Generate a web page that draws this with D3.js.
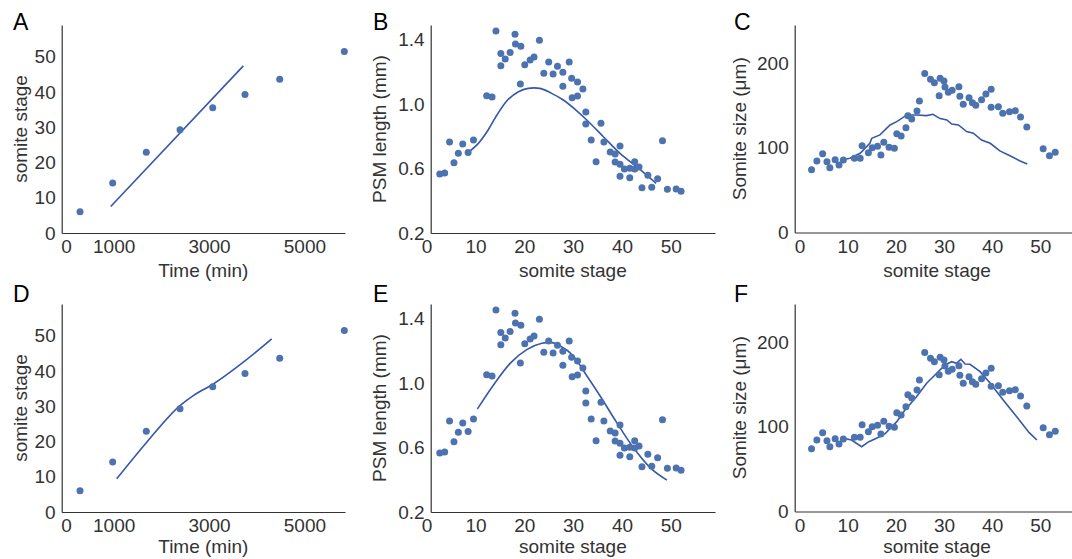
<!DOCTYPE html>
<html>
<head>
<meta charset="utf-8">
<script src="https://cdn.jsdelivr.net/npm/d3@7"></script>
<style>
  body { margin: 0; background: #fff; }
  svg { display: block; font-family: "Liberation Sans", Arial, sans-serif; }
  .tick text { font-size: 19px; fill: #333; }
  .domain { stroke: #333; stroke-width: 1.2px; }
  .axis-title { font-size: 19px; fill: #333; }
  .panel-letter { font-size: 23px; fill: #000; }
  .dot { fill: #4c72b0; }
  .fit { fill: none; stroke: #3558a8; stroke-width: 1.6px; }
</style>
</head>
<body>
<svg id="chart" width="1072" height="559"></svg>
<script>
  // --- Data ---
  // A / D: somite stage vs time
  const timeMin      = [294, 979, 1684, 2391, 3077, 3754, 4482, 5837];
  const stageAtTime  = [6.0, 14.2, 22.9, 29.3, 35.5, 39.3, 43.6, 51.5];
  const fitA_time    = [938, 3719];
  const fitA_stage   = [7.5, 47.4];
  const fitD_time    = [1063, 1693, 2391, 2670, 3089, 3719, 4314];
  const fitD_stage   = [9.4, 19.8, 30.2, 33.0, 36.3, 42.5, 49.1];

  // B / E: PSM length vs somite stage
  const psmStage = [2.7, 3.7, 4.7, 5.6, 6.5, 7.4, 8.5, 9.6, 12.3, 13.4, 14.2, 15.2, 15.2, 16.1, 17.1,
    18.1, 18.2, 19.3, 19.2, 20.1, 21.2, 22.0, 23.1, 24.0, 25.0, 25.9, 26.8, 27.9, 27.9, 29.2, 29.7,
    29.8, 30.9, 30.9, 32.0, 32.6, 32.6, 33.7, 34.7, 35.7, 36.3, 37.6, 38.6, 38.6, 39.6, 39.6, 39.6,
    40.5, 41.6, 41.6, 42.6, 42.6, 43.5, 44.1, 45.3, 46.1, 47.3, 48.3, 49.3, 51.1, 52.1];
  const psmLength = [0.566, 0.572, 0.764, 0.636, 0.694, 0.752, 0.700, 0.777, 1.051, 1.043, 1.453, 1.314, 1.238, 1.279, 1.320,
    1.432, 1.372, 1.358, 1.124, 1.244, 1.273, 1.291, 1.395, 1.190, 1.260, 1.186, 1.234, 1.197, 1.110, 1.260, 1.159,
    1.039, 1.136, 1.050, 1.093, 0.950, 0.876, 0.777, 0.642, 0.880, 0.764, 0.702, 0.690, 0.640, 0.740, 0.626, 0.552,
    0.597, 0.601, 0.543, 0.642, 0.597, 0.609, 0.481, 0.558, 0.483, 0.537, 0.772, 0.471, 0.473, 0.459];
  const fitB_stage  = [8.5, 10.6, 12.6, 14.4, 16.4, 18.8, 20.8, 22.0, 23.2, 25.6, 28.0, 30.4, 32.8, 36.2, 39.6, 43.0, 47.0];
  const fitB_length = [0.700, 0.756, 0.839, 0.932, 1.019, 1.076, 1.097, 1.100, 1.097, 1.066, 1.025, 0.967, 0.901, 0.797, 0.694, 0.611, 0.508];
  const fitE_stage  = [10.4, 13.7, 17.1, 20.5, 23.6, 25.3, 27.3, 30.0, 32.8, 35.5, 38.9, 42.3, 45.7, 49.2];
  const fitE_length = [0.839, 0.988, 1.122, 1.207, 1.246, 1.252, 1.231, 1.169, 1.045, 0.921, 0.756, 0.601, 0.477, 0.398];

  // C / F: somite size vs somite stage
  const sizeStage = [2.5, 3.6, 4.8, 5.7, 6.3, 7.4, 8.2, 9.1, 11.4, 12.6, 13.0, 14.3, 15.1, 16.2, 16.9, 17.5, 18.6,
    19.7, 20.2, 21.1, 22.1, 22.5, 23.3, 24.4, 24.9, 26.0, 27.2, 28.0, 29.2, 29.0, 30.0, 30.2, 30.9, 31.7,
    33.1, 33.3, 34.0, 35.2, 35.9, 36.6, 37.8, 38.7, 39.8, 39.8, 41.3, 42.2, 43.6, 44.8, 45.9, 47.2,
    50.6, 51.9, 53.1];
  const sizeUm = [74.2, 84.4, 93.1, 83.6, 76.5, 86.0, 79.7, 85.6, 87.6, 87.6, 102.5, 94.3, 100.2, 101.8, 91.5, 106.5, 100.6,
    99.4, 116.7, 114.0, 123.8, 137.9, 134.0, 143.5, 155.3, 187.6, 180.9, 176.9, 182.1, 161.6, 178.9, 171.8, 165.6, 168.0,
    172.2, 160.8, 151.4, 159.2, 153.3, 150.2, 156.8, 163.6, 169.1, 147.9, 148.6, 140.8, 142.7, 143.9, 136.4, 124.6,
    99.0, 90.7, 94.7];
  const fitC_stage = [8.5, 10.5, 12.6, 14.6, 15.0, 16.7, 18.8, 20.2, 22.3, 24.3, 26.4, 27.7, 29.2, 30.6, 31.6, 33.0,
    34.7, 36.1, 37.8, 39.6, 41.6, 43.7, 45.8, 47.3];
  const fitC_size  = [85.6, 87.6, 93.5, 105.3, 111.3, 115.2, 127.0, 130.9, 138.8, 138.8, 138.0, 139.6, 134.5, 132.9, 128.1, 127.0,
    119.1, 117.2, 109.2, 105.3, 96.3, 90.7, 84.4, 80.9];
  const fitF_stage = [9.1, 10.8, 12.9, 14.4, 16.2, 17.8, 18.8, 20.2, 21.9, 24.3, 26.4, 28.5, 30.2, 31.6, 32.6, 33.5,
    34.4, 35.4, 37.5, 39.6, 42.3, 45.1, 47.7, 49.3];
  const fitF_size  = [86.5, 84.4, 76.5, 82.4, 87.0, 92.0, 98.0, 106.1, 119.9, 135.6, 151.4, 163.2, 173.0, 176.9, 175.0, 179.7,
    174.2, 173.8, 165.1, 151.4, 131.7, 112.0, 93.1, 84.4];

  const timeTicks  = [0, 1000, 3000, 5000];
  const stageTicks = [0, 10, 20, 30, 40, 50];
  const psmTicks   = [0.2, 0.6, 1.0, 1.4];
  const sizeTicks  = [0, 100, 200];

  const zip = (xs, ys) => xs.map((x, i) => [x, ys[i]]);

  const svg = d3.select("#chart");
  const ROW = 279;

  // column layouts (pixel geometry only)
  const cols = {
    time: { xDom: [-90, 5851], xRange: [61.7, 345], yRange: [233, 25], letterX: 13, ytitleX: 27, xtitleX: 203.3 },
    psm:  { xDom: [0.84, 59.05], xRange: [430.7, 715], yRange: [233, 25], letterX: 373, ytitleX: 386, xtitleX: 572.9 },
    size: { xDom: [-1, 57], xRange: [794.7, 1074], yRange: [232.5, 25], letterX: 734, ytitleX: 746, xtitleX: 937 }
  };

  const panels = [
    { letter: "A", col: "time", row: 0, pts: zip(timeMin, stageAtTime), fit: zip(fitA_time, fitA_stage),
      yDom: [0, 59], xTicks: timeTicks, yTicks: stageTicks, yFmt: d3.format("d"),
      xTitle: "Time (min)", yTitle: "somite stage", curve: d3.curveLinear },
    { letter: "B", col: "psm", row: 0, pts: zip(psmStage, psmLength), fit: zip(fitB_stage, fitB_length),
      yDom: [0.2, 1.49], xTicks: stageTicks, yTicks: psmTicks, yFmt: d3.format(".1f"),
      xTitle: "somite stage", yTitle: "PSM length (mm)", curve: d3.curveMonotoneX },
    { letter: "C", col: "size", row: 0, pts: zip(sizeStage, sizeUm), fit: zip(fitC_stage, fitC_size),
      yDom: [0, 245], xTicks: stageTicks, yTicks: sizeTicks, yFmt: d3.format("d"),
      xTitle: "somite stage", yTitle: "Somite size (\u03bcm)", curve: d3.curveLinear },
    { letter: "D", col: "time", row: 1, pts: zip(timeMin, stageAtTime), fit: zip(fitD_time, fitD_stage),
      yDom: [0, 59], xTicks: timeTicks, yTicks: stageTicks, yFmt: d3.format("d"),
      xTitle: "Time (min)", yTitle: "somite stage", curve: d3.curveMonotoneX },
    { letter: "E", col: "psm", row: 1, pts: zip(psmStage, psmLength), fit: zip(fitE_stage, fitE_length),
      yDom: [0.2, 1.49], xTicks: stageTicks, yTicks: psmTicks, yFmt: d3.format(".1f"),
      xTitle: "somite stage", yTitle: "PSM length (mm)", curve: d3.curveMonotoneX },
    { letter: "F", col: "size", row: 1, pts: zip(sizeStage, sizeUm), fit: zip(fitF_stage, fitF_size),
      yDom: [0, 245], xTicks: stageTicks, yTicks: sizeTicks, yFmt: d3.format("d"),
      xTitle: "somite stage", yTitle: "Somite size (\u03bcm)", curve: d3.curveLinear }
  ];

  panels.forEach(p => {
    const c = cols[p.col];
    const off = p.row * ROW;
    const x = d3.scaleLinear().domain(c.xDom).range(c.xRange);
    const y = d3.scaleLinear().domain(p.yDom).range(c.yRange.map(v => v + off));
    const g = svg.append("g");

    // axes (left + bottom only, no tick marks)
    const xAxis = g.append("g")
      .attr("transform", `translate(0,${y.range()[0]})`)
      .call(d3.axisBottom(x).tickValues(p.xTicks).tickFormat(d3.format("d")).tickSize(0).tickPadding(7));
    const yAxis = g.append("g")
      .attr("transform", `translate(${c.xRange[0]},0)`)
      .call(d3.axisLeft(y).tickValues(p.yTicks).tickFormat(p.yFmt).tickSize(0).tickPadding(6));
    [xAxis, yAxis].forEach(a => a.attr("font-size", null).attr("font-family", null));

    // fitted curve
    g.append("path")
      .datum(p.fit)
      .attr("class", "fit")
      .attr("d", d3.line().x(d => x(d[0])).y(d => y(d[1])).curve(p.curve));

    // data points
    g.selectAll("circle")
      .data(p.pts)
      .join("circle")
      .attr("class", "dot")
      .attr("cx", d => x(d[0]))
      .attr("cy", d => y(d[1]))
      .attr("r", 3.5);

    // titles
    g.append("text")
      .attr("class", "axis-title")
      .attr("text-anchor", "middle")
      .attr("x", c.xtitleX)
      .attr("y", (p.row ? 553 : 277))
      .text(p.xTitle);
    const yMid = (c.yRange[0] + c.yRange[1]) / 2 + off;
    g.append("text")
      .attr("class", "axis-title")
      .attr("text-anchor", "middle")
      .attr("transform", `translate(${c.ytitleX},${yMid}) rotate(-90)`)
      .text(p.yTitle);

    g.append("text")
      .attr("class", "panel-letter")
      .attr("x", c.letterX)
      .attr("y", 30 + off - (p.row ? 7 : 0))
      .text(p.letter);
  });
</script>
</body>
</html>
